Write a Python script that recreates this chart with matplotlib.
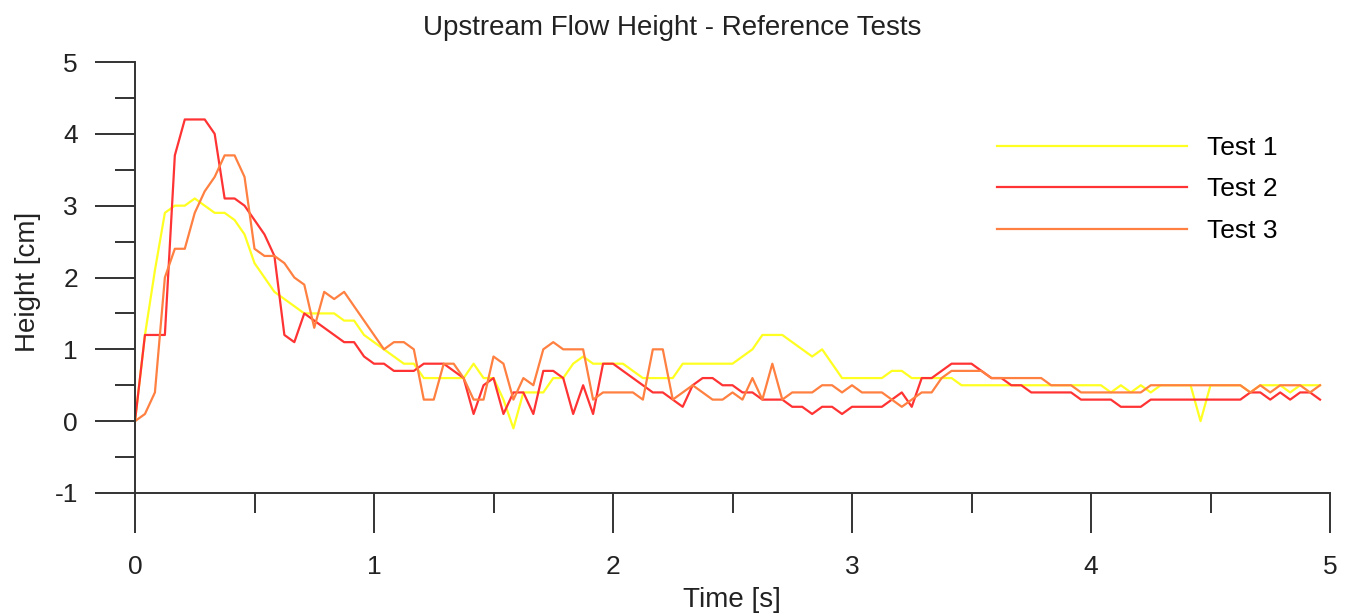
import numpy as np
import matplotlib
matplotlib.use("Agg")
import matplotlib.pyplot as plt
from matplotlib.ticker import MultipleLocator

# ========== DATA ==========
# frames sampled at 24 fps, heights in cm
frame_rate = 24
test1 = [0, 1.2, 2.1, 2.9, 3.0, 3.0, 3.1, 3.0, 2.9, 2.9,
         2.8, 2.6, 2.2, 2.0, 1.8, 1.7, 1.6, 1.5, 1.5, 1.5,
         1.5, 1.4, 1.4, 1.2, 1.1, 1.0, 0.9, 0.8, 0.8, 0.6,
         0.6, 0.6, 0.6, 0.6, 0.8, 0.6, 0.6, 0.3, -0.1, 0.4,
         0.4, 0.4, 0.6, 0.6, 0.8, 0.9, 0.8, 0.8, 0.8, 0.8,
         0.7, 0.6, 0.6, 0.6, 0.6, 0.8, 0.8, 0.8, 0.8, 0.8,
         0.8, 0.9, 1.0, 1.2, 1.2, 1.2, 1.1, 1.0, 0.9, 1.0,
         0.8, 0.6, 0.6, 0.6, 0.6, 0.6, 0.7, 0.7, 0.6, 0.6,
         0.6, 0.6, 0.6, 0.5, 0.5, 0.5, 0.5, 0.5, 0.5, 0.5,
         0.5, 0.5, 0.5, 0.5, 0.5, 0.5, 0.5, 0.5, 0.4, 0.5,
         0.4, 0.5, 0.4, 0.5, 0.5, 0.5, 0.5, 0.0, 0.5, 0.5,
         0.5, 0.5, 0.4, 0.5, 0.5, 0.5, 0.4, 0.5, 0.5, 0.5]
test2 = [0, 1.2, 1.2, 1.2, 3.7, 4.2, 4.2, 4.2, 4.0, 3.1,
         3.1, 3.0, 2.8, 2.6, 2.3, 1.2, 1.1, 1.5, 1.4, 1.3,
         1.2, 1.1, 1.1, 0.9, 0.8, 0.8, 0.7, 0.7, 0.7, 0.8,
         0.8, 0.8, 0.7, 0.6, 0.1, 0.5, 0.6, 0.1, 0.4, 0.4,
         0.1, 0.7, 0.7, 0.6, 0.1, 0.5, 0.1, 0.8, 0.8, 0.7,
         0.6, 0.5, 0.4, 0.4, 0.3, 0.2, 0.5, 0.6, 0.6, 0.5,
         0.5, 0.4, 0.4, 0.3, 0.3, 0.3, 0.2, 0.2, 0.1, 0.2,
         0.2, 0.1, 0.2, 0.2, 0.2, 0.2, 0.3, 0.4, 0.2, 0.6,
         0.6, 0.7, 0.8, 0.8, 0.8, 0.7, 0.6, 0.6, 0.5, 0.5,
         0.4, 0.4, 0.4, 0.4, 0.4, 0.3, 0.3, 0.3, 0.3, 0.2,
         0.2, 0.2, 0.3, 0.3, 0.3, 0.3, 0.3, 0.3, 0.3, 0.3,
         0.3, 0.3, 0.4, 0.4, 0.3, 0.4, 0.3, 0.4, 0.4, 0.3]
test3 = [0, 0.1, 0.4, 2.0, 2.4, 2.4, 2.9, 3.2, 3.4, 3.7,
         3.7, 3.4, 2.4, 2.3, 2.3, 2.2, 2.0, 1.9, 1.3, 1.8,
         1.7, 1.8, 1.6, 1.4, 1.2, 1.0, 1.1, 1.1, 1.0, 0.3,
         0.3, 0.8, 0.8, 0.6, 0.3, 0.3, 0.9, 0.8, 0.3, 0.6,
         0.5, 1.0, 1.1, 1.0, 1.0, 1.0, 0.3, 0.4, 0.4, 0.4,
         0.4, 0.3, 1.0, 1.0, 0.3, 0.4, 0.5, 0.4, 0.3, 0.3,
         0.4, 0.3, 0.6, 0.3, 0.8, 0.3, 0.4, 0.4, 0.4, 0.5,
         0.5, 0.4, 0.5, 0.4, 0.4, 0.4, 0.3, 0.2, 0.3, 0.4,
         0.4, 0.6, 0.7, 0.7, 0.7, 0.7, 0.6, 0.6, 0.6, 0.6,
         0.6, 0.6, 0.5, 0.5, 0.5, 0.4, 0.4, 0.4, 0.4, 0.4,
         0.4, 0.4, 0.5, 0.5, 0.5, 0.5, 0.5, 0.5, 0.5, 0.5,
         0.5, 0.5, 0.4, 0.5, 0.4, 0.5, 0.5, 0.5, 0.4, 0.5]
labels = ["Test 1", "Test 2", "Test 3"]
colors = ["#ffff22", "#ff3333", "#ff8040"]

# ========== PLOT ==========
plt.rcParams["font.family"] = ["Liberation Sans", "DejaVu Sans"]
plt.rcParams["axes.unicode_minus"] = False
axis_color = "#333333"
text_color = "#222222"

fig = plt.figure(figsize=(13.48, 6.16), dpi=100)
ax = fig.add_axes([135 / 1348, 123 / 616, 1195 / 1348, 431 / 616])

for series, label, color in zip([test1, test2, test3], labels, colors):
    t = np.arange(len(series)) / frame_rate
    ax.plot(t, series, color=color, lw=1.6, label=label)

ax.set_xlim(0, 5)
ax.set_ylim(-1, 5)
ax.xaxis.set_major_locator(MultipleLocator(1))
ax.xaxis.set_minor_locator(MultipleLocator(0.5))
ax.yaxis.set_major_locator(MultipleLocator(1))
ax.yaxis.set_minor_locator(MultipleLocator(0.5))

for side in ["top", "right"]:
    ax.spines[side].set_visible(False)
for side in ["left", "bottom"]:
    ax.spines[side].set_color(axis_color)
    ax.spines[side].set_linewidth(1.4)

ax.tick_params(which="major", direction="out", length=29, width=1.4,
               color=axis_color, labelsize=19, labelcolor=text_color)
ax.tick_params(which="minor", direction="out", length=14.5, width=1.4,
               color=axis_color)
ax.tick_params(axis="x", which="major", pad=16)
ax.tick_params(axis="y", which="major", pad=12)

fig.text(0.499, 0.955, "Upstream Flow Height - Reference Tests",
         ha="center", va="center", fontsize=20, color=text_color)
fig.text(0.543, 0.026, "Time [s]", ha="center", va="center",
         fontsize=20, color=text_color)
fig.text(0.021, 0.542, "Height [cm]", ha="center", va="center",
         rotation=90, fontsize=20, color=text_color)

ax.legend(loc="upper left", bbox_to_anchor=((997 - 135) / 1195, (493 - 136) / 431),
          frameon=False, fontsize=19, handlelength=7.2, handletextpad=0.75,
          labelspacing=0.66, borderpad=0, borderaxespad=0)

fig.savefig("out.png", dpi=100)
